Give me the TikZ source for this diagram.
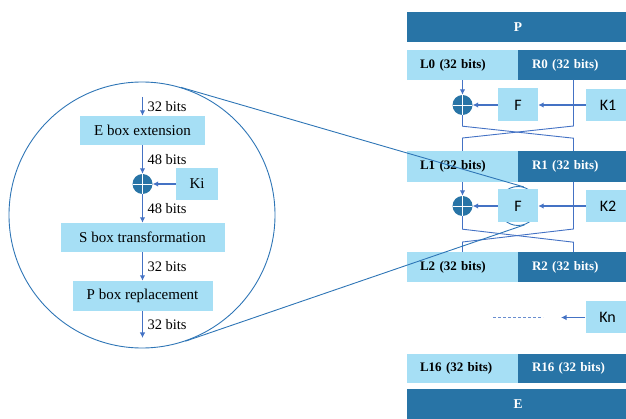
\documentclass[tikz,border=0pt]{standalone}
\usepackage{fontspec}
\setmainfont{Liberation Serif}
\newfontfamily\kfont{Carlito}
\usetikzlibrary{arrows.meta,backgrounds}

\definecolor{deep}{HTML}{2874A6}
\definecolor{pale}{HTML}{A6DFF5}
\definecolor{wire}{HTML}{4472C4}
\definecolor{lens}{HTML}{2E75B6}

\tikzset{
  band/.style={fill=deep, text=white, minimum width=222pt, minimum height=30pt,
    inner sep=0pt, outer sep=0pt, font=\bfseries\fontsize{13.5}{14}\selectfont},
  lhalf/.style={fill=pale, minimum height=#1, inner xsep=13pt, inner ysep=0pt,
    text width=85pt, align=left, outer sep=0pt, font=\bfseries\fontsize{13}{14}\selectfont},
  rhalf/.style={fill=deep, text=white, minimum height=#1, inner xsep=14pt, inner ysep=0pt,
    text width=83pt, align=left, outer sep=0pt, font=\bfseries\fontsize{13}{14}\selectfont},
  xor/.style={circle, fill=deep, minimum size=20pt, inner sep=0pt,
    path picture={\draw[white, line width=0.8pt]
      (path picture bounding box.north) -- (path picture bounding box.south)
      (path picture bounding box.west) -- (path picture bounding box.east);}},
  fbox/.style={fill=pale, minimum width=40pt, minimum height=33pt, inner sep=0pt,
    font=\kfont\fontsize{16}{16}\selectfont},
  kbox/.style={fill=pale, minimum width=44pt, minimum height=32pt, inner sep=0pt,
    font=\kfont\fontsize{16}{16}\selectfont},
  stage/.style={fill=pale, minimum height=#1, inner sep=0pt,
    font=\fontsize{15}{15}\selectfont},
  arr/.style={wire, line width=1.1pt, -{Latex[length=5.5pt,width=5.5pt]}},
  cross/.style={wire, line width=0.9pt},
  lensline/.style={lens, line width=0.9pt},
  bits/.style={midway, right, text=black, inner xsep=4.5pt, font=\fontsize{14.5}{15}\selectfont},
}

\begin{document}
\begin{tikzpicture}[x=1pt, y=-1pt]
\useasboundingbox (0,0) rectangle (626,419);

% ---------- Feistel network ----------
\node[band] (P) at (518,27) {P};

\node[lhalf=30pt] (L0) at (462.5,65) {L0 (32 bits)};
\node[rhalf=30pt] (R0) at (573.5,65) {R0 (32 bits)};

\node[xor] (X1) at (462.5,105) {};
\node[fbox] (F1) at (518,105) {F};
\node[kbox] (K1) at (608,105) {K1};

\node[lhalf=31pt] (L1) at (462.5,166.5) {L1 (32 bits)};
\node[rhalf=31pt] (R1) at (573.5,166.5) {R1 (32 bits)};

\node[xor] (X2) at (462.5,206) {};
\node[fbox] (F2) at (518,206) {F};
\node[kbox] (K2) at (608,206) {K2};

\node[lhalf=30pt] (L2) at (462.5,267) {L2 (32 bits)};
\node[rhalf=30pt] (R2) at (573.5,267) {R2 (32 bits)};

\node[kbox] (Kn) at (607.5,317.5) {Kn};
\coordinate (kend) at (561,317.5);
\coordinate (d1) at (493,317.5);
\coordinate (d2) at (543,317.5);

\node[lhalf=29pt] (L16) at (462.5,368.5) {L16 (32 bits)};
\node[rhalf=29pt] (R16) at (573.5,368.5) {R16 (32 bits)};

\node[band] (E) at (518,404) {E};

% round 1
\draw[arr] (L0.south) -- (X1.north);
\draw[arr] (F1.west) -- (X1.east);
\draw[arr] (K1.west) -- (F1.east);
\draw[cross] (X1.south) -- ++(0,11) -- ++(111,12) -- (R1.north);
\draw[cross] (R0.south) -- ++(0,46) -- ++(-111,12) -- (L1.north);

% round 2
\draw[arr] (L1.south) -- (X2.north);
\draw[arr] (F2.west) -- (X2.east);
\draw[arr] (K2.west) -- (F2.east);
\draw[cross] (X2.south) -- ++(0,13) -- ++(111,13) -- (R2.north);
\draw[cross] (R1.south) -- ++(0,47) -- ++(-111,13) -- (L2.north);

% remaining rounds
\draw[arr] (Kn.west) -- (kend);
\draw[wire!80, line width=0.7pt, dash pattern=on 3pt off 2pt] (d1) -- (d2);

% ---------- detail of the round function ----------
\node[draw=lens, line width=0.9pt, circle, minimum size=266pt, inner sep=0pt] (lensC) at (142,215) {};
\begin{pgfonlayer}{background}
  \node[draw=lens, line width=0.9pt, circle, minimum size=39pt, inner sep=0pt] (lensF) at (F2) {};
\end{pgfonlayer}
\draw[lensline] (lensC.73.7) -- (lensF.73.7);
\draw[lensline] (lensC.-71) -- (lensF.-71);

\coordinate (in0) at (142.5,97);
\node[stage=29pt, minimum width=125pt] (ebox) at (142.5,130.5) {E box extension};
\node[xor] (xk) at (142.5,184) {};
\node[stage=32pt, minimum width=42pt] (ki) at (197,184) {Ki};
\node[stage=29pt, minimum width=164pt] (sbox) at (142.5,237.5) {S box transformation};
\node[stage=30pt, minimum width=140pt] (pbox) at (142.5,296) {P box replacement};
\coordinate (out0) at (142.5,338);

\draw[arr] (in0) -- node[bits] {32 bits} (ebox.north);
\draw[arr] (ebox.south) -- node[bits] {48 bits} (xk.north);
\draw[arr] (ki.west) -- (xk.east);
\draw[arr] (xk.south) -- node[bits] {48 bits} (sbox.north);
\draw[arr] (sbox.south) -- node[bits] {32 bits} (pbox.north);
\draw[arr] (pbox.south) -- node[bits] {32 bits} (out0);
\end{tikzpicture}
\end{document}
